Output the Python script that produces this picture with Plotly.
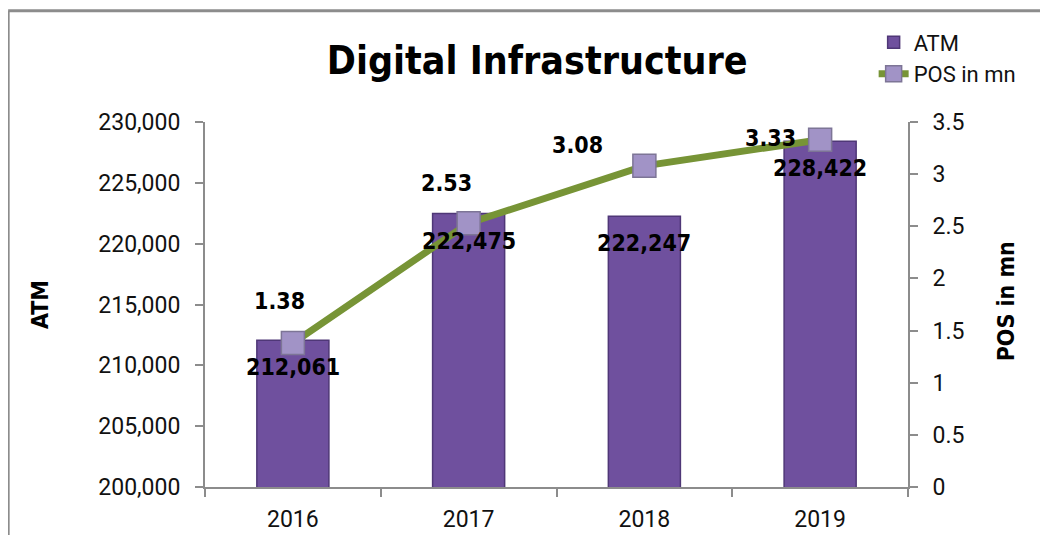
import plotly.graph_objects as go

years = ['2016', '2017', '2018', '2019']
atm = [212061, 222475, 222247, 228422]
pos_mn = [1.38, 2.53, 3.08, 3.33]

atm_labels = [f'{v:,}' for v in atm]
pos_labels = [f'{v:.2f}' for v in pos_mn]

narrow = 'DejaVu Sans Condensed, Liberation Sans Narrow, Liberation Sans, sans-serif'
tick_font = dict(family='Roboto, sans-serif', size=23, color='#111111')

fig = go.Figure()

fig.add_trace(go.Bar(
    x=years, y=atm, name='ATM',
    marker=dict(color='#6F509E', line=dict(color='#4F3777', width=1.5)),
))

fig.add_trace(go.Scatter(
    x=years, y=pos_mn, name='POS in mn', yaxis='y2',
    mode='lines+markers',
    line=dict(color='#779436', width=7),
    marker=dict(symbol='square', size=23, color='#A193C6',
                line=dict(color='#7D7596', width=1.5)),
    cliponaxis=False,
))

# labels: numeric-looking category strings get cast to numbers in
# annotations, so refer to categories by their index on the axis
for i, (v, lbl) in enumerate(zip(atm, atm_labels)):
    fig.add_annotation(x=i, y=v, xref='x', yref='y', text=f'<b>{lbl}</b>',
                       showarrow=False, yshift=-27,
                       font=dict(family=narrow, size=23, color='black'))

# value labels for the POS line, placed up and to the left of each marker
offsets = [(-13, 42), (-22, 40), (-67, 21), (-50, 2)]
for i, (v, lbl, (dx, dy)) in enumerate(zip(pos_mn, pos_labels, offsets)):
    fig.add_annotation(x=i, y=v, xref='x', yref='y2', text=f'<b>{lbl}</b>',
                       showarrow=False, xshift=dx, yshift=dy,
                       font=dict(family=narrow, size=23, color='black'))

# right axis title drawn by hand - the overlaying axis puts it inside the plot
fig.add_annotation(x=1.16, y=0.51, xref='paper', yref='paper',
                   text='<b>POS in mn</b>', textangle=-90, showarrow=False,
                   font=dict(family=narrow, size=23, color='black'))

axis_col = '#8C8C8C'
fig.update_layout(
    width=1048, height=535,
    margin=dict(l=197, r=148, t=114, b=56, autoexpand=False),
    paper_bgcolor='white', plot_bgcolor='white',
    showlegend=True,
    legend=dict(xref='container', yref='container', x=0.826, y=0.975,
                xanchor='left', yanchor='top',
                font=dict(family='Roboto, sans-serif', size=22, color='#111111'),
                bgcolor='rgba(0,0,0,0)', tracegroupgap=0),
    title=dict(text='<b>Digital Infrastructure</b>', x=0.505, xanchor='center',
               xref='container', y=0.903, yanchor='middle',
               font=dict(family=narrow, size=39, color='black')),
    bargap=0.59,
    xaxis=dict(type='category', categoryorder='array', categoryarray=years,
               range=[-0.5, len(years) - 0.5],
               showline=True, linecolor=axis_col, linewidth=2,
               ticks='outside', tickson='boundaries', ticklen=8,
               tickcolor=axis_col, tickwidth=2, ticklabelstandoff=10,
               tickfont=tick_font, showgrid=False),
    yaxis=dict(title=dict(text='<b>ATM</b>', standoff=43,
                          font=dict(family=narrow, size=23, color='black')),
               range=[200000, 230000], dtick=5000, tickformat=',',
               showline=True, linecolor=axis_col, linewidth=2,
               ticks='outside', ticklen=8, tickcolor=axis_col, tickwidth=2,
               ticklabelstandoff=10,
               tickfont=tick_font, showgrid=False, zeroline=False),
    yaxis2=dict(overlaying='y', side='right', range=[0, 3.5], dtick=0.5,
                showline=True, linecolor=axis_col, linewidth=2,
                ticks='outside', ticklen=8, tickcolor=axis_col, tickwidth=2,
                ticklabelstandoff=10,
                tickfont=tick_font, showgrid=False, zeroline=False),
)

# outer chart frame (top and left edges are visible in the source)
fig.add_shape(type='line', xref='paper', yref='paper',
              x0=-0.28, x1=1.25, y0=1.305, y1=1.305,
              line=dict(color=axis_col, width=3))
fig.add_shape(type='line', xref='paper', yref='paper',
              x0=-0.28, x1=-0.28, y0=1.305, y1=-0.2,
              line=dict(color=axis_col, width=3))

fig.write_html('out.html')
